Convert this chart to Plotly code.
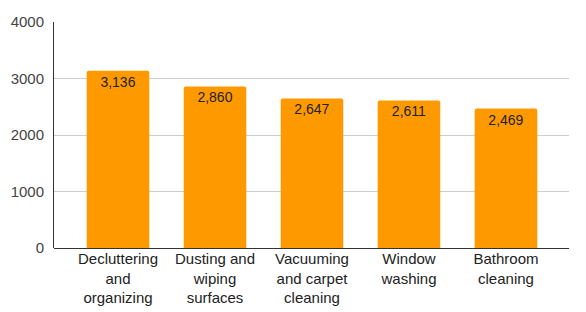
import plotly.graph_objects as go

categories = ["Decluttering<br>and<br>organizing", "Dusting and<br>wiping<br>surfaces",
              "Vacuuming<br>and carpet<br>cleaning", "Window<br>washing", "Bathroom<br>cleaning"]
values = [3136, 2860, 2647, 2611, 2469]
value_labels = ["3,136", "2,860", "2,647", "2,611", "2,469"]
y_ticks = [0, 1000, 2000, 3000, 4000]

fig = go.Figure(go.Bar(
    x=list(range(len(categories))), y=values, text=value_labels,
    textposition="inside", insidetextanchor="end",
    textfont=dict(family="Liberation Sans, Arial", size=14, color="#222222"),
    marker=dict(color="#FF9900", line=dict(width=0)),
    width=0.645, marker_cornerradius=2,
))
fig.update_layout(
    width=586, height=312, margin=dict(l=54, r=17, t=22, b=64),
    plot_bgcolor="white", paper_bgcolor="white", showlegend=False,
    font=dict(family="Liberation Sans, Arial", size=15, color="#222222"),
    uniformtext=dict(mode=False),
)
fig.update_xaxes(tickmode="array", tickvals=list(range(len(categories))), ticktext=categories,
                 range=[-0.66, 4.65], showgrid=False, ticks="", showline=False, automargin=False,
                 tickfont=dict(size=15, color="#222222"), ticklabelstandoff=0)
fig.update_yaxes(range=[0, 4000], tickvals=y_ticks, showgrid=True, gridcolor="#cccccc",
                 zeroline=True, zerolinecolor="#333333", zerolinewidth=1, automargin=False,
                 showline=True, linecolor="#333333", linewidth=1, ticks="",
                 tickfont=dict(size=15, color="#444444"), ticklabelstandoff=6)
fig.write_html("out.html")
